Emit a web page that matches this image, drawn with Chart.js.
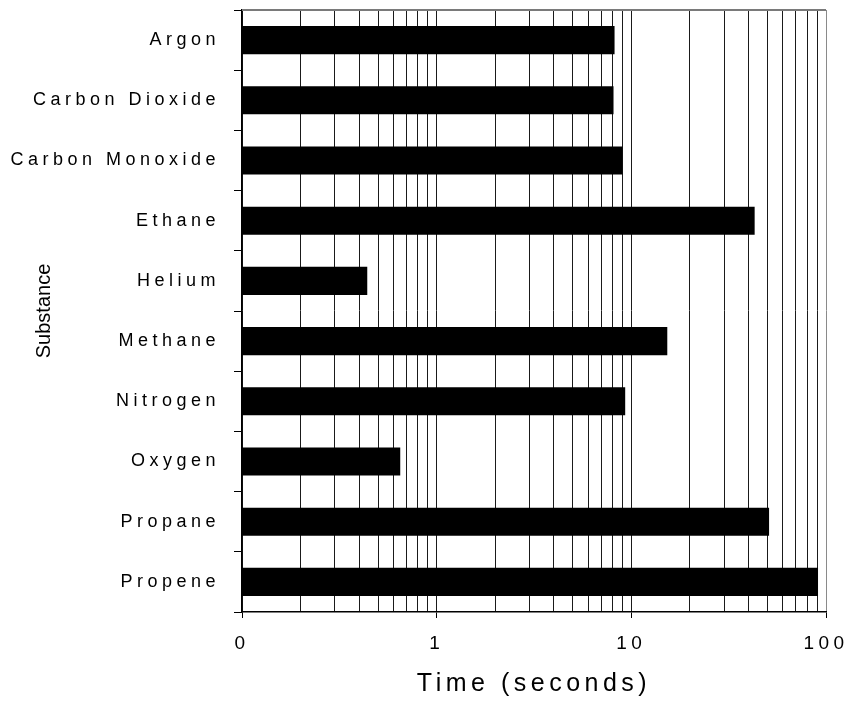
<!DOCTYPE html>
<html>
<head>
<meta charset="utf-8">
<script src="https://cdn.jsdelivr.net/npm/chart.js@4.4.1/dist/chart.umd.min.js"></script>
<style>
  html, body { margin: 0; padding: 0; background: #fff; }
  canvas { display: block; }
</style>
</head>
<body>
<canvas id="c" width="848" height="702"></canvas>
<script>
// Time for each gas (seconds), plotted on a log axis
const substances = ['Argon', 'Carbon Dioxide', 'Carbon Monoxide', 'Ethane', 'Helium',
                    'Methane', 'Nitrogen', 'Oxygen', 'Propane', 'Propene'];
const times = [8.2, 8.1, 9.0, 43, 0.44, 15.3, 9.3, 0.65, 51, 91];

// Vertical grid positions on the time axis, and the few that carry a label
const gridTicks = [0.1, 0.2, 0.3, 0.4, 0.5, 0.6, 0.7, 0.8, 0.9,
                   1, 2, 3, 4, 5, 6, 7, 8, 9,
                   10, 20, 30, 40, 50, 60, 70, 80, 90, 100];
const labelledTicks = [0.1, 1, 10, 100];
const labelledTickText = ['0', '1', '10', '100'];

const FONT = "'Liberation Sans', Arial, Helvetica, sans-serif";
const LETTER_SPACING = '4.5px';

// Wide letter spacing for labels; the vertical axis title stays plain
const spacedText = {
  id: 'spacedText',
  afterLayout(chart) {
    const y = chart.scales.y;
    if (y && !y._plainTitle) {
      const drawTitle = y.drawTitle;
      y.drawTitle = function (...args) {
        const ctx = this.ctx;
        const prev = ctx.letterSpacing;
        ctx.letterSpacing = '0px';
        drawTitle.apply(this, args);
        ctx.letterSpacing = prev;
      };
      y._plainTitle = true;
    }
  },
  beforeDraw(chart) {
    chart.ctx.letterSpacing = LETTER_SPACING;
  }
};

// Grey top edge of the plotting frame
const frameTop = {
  id: 'frameTop',
  afterDatasetsDraw(chart) {
    const { ctx, chartArea: { left, right, top } } = chart;
    ctx.save();
    ctx.strokeStyle = '#7a7a7a';
    ctx.lineWidth = 2;
    ctx.beginPath();
    ctx.moveTo(left, top);
    ctx.lineTo(right, top);
    ctx.stroke();
    ctx.restore();
  }
};

new Chart(document.getElementById('c'), {
  type: 'bar',
  data: {
    labels: substances,
    datasets: [{
      data: times,
      backgroundColor: '#000',
      borderWidth: 0,
      barPercentage: 0.467,
      categoryPercentage: 1
    }]
  },
  options: {
    indexAxis: 'y',
    responsive: false,
    devicePixelRatio: 1,
    animation: false,
    layout: { padding: { top: 10, right: 22, left: 0, bottom: 0 } },
    plugins: {
      legend: { display: false },
      tooltip: { enabled: false }
    },
    scales: {
      x: {
        type: 'logarithmic',
        min: 0.1,
        max: 100,
        afterBuildTicks: (scale) => {
          scale.ticks = gridTicks.map(v => ({ value: v, major: labelledTicks.includes(v) }));
        },
        afterFit: (scale) => {
          scale.height = 90;
          scale.paddingLeft = 0;
          scale.paddingRight = 0;
        },
        ticks: {
          autoSkip: false,
          maxRotation: 0,
          padding: 14,
          color: '#000',
          font: { family: FONT, size: 19 },
          callback: (v) => {
            const i = labelledTicks.indexOf(v);
            return i >= 0 ? labelledTickText[i] : '';
          }
        },
        grid: {
          color: (c) => (c.tick && c.tick.value === 100 ? '#8a8a8a' : '#1a1a1a'),
          lineWidth: 1,
          tickLength: 6,
          tickColor: (c) => (c.tick && labelledTicks.includes(c.tick.value) ? '#000' : 'rgba(0,0,0,0)')
        },
        border: { color: '#000', width: 1.5 },
        title: {
          display: true,
          text: 'Time (seconds)',
          color: '#000',
          font: { family: FONT, size: 25 },
          padding: { top: 0, bottom: 2.5 }
        }
      },
      y: {
        afterFit: (scale) => {
          scale.width = 242;
          scale.paddingTop = 0;
          scale.paddingBottom = 0;
        },
        ticks: {
          padding: 14,
          color: '#000',
          font: { family: FONT, size: 18 }
        },
        grid: {
          offset: true,
          drawOnChartArea: false,
          tickLength: 8,
          color: '#000'
        },
        border: { color: '#000', width: 1.5 },
        title: {
          display: true,
          text: 'Substance',
          color: '#000',
          font: { family: FONT, size: 20 },
          padding: { top: 32.5, bottom: 0 }
        }
      }
    }
  },
  plugins: [spacedText, frameTop]
});
</script>
</body>
</html>
